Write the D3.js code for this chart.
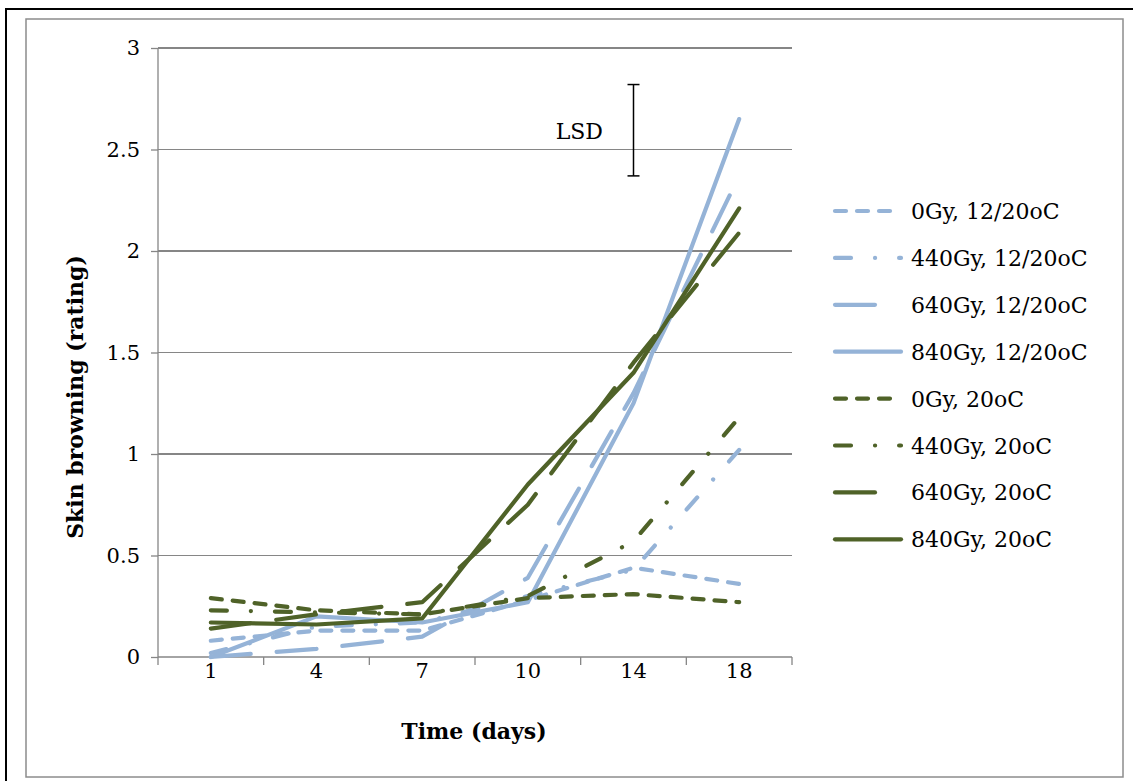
<!DOCTYPE html>
<html>
<head>
<meta charset="UTF-8">
<title>Skin browning</title>
<script src="https://cdn.jsdelivr.net/npm/d3@7"></script>
<style>
  body { margin: 0; background: #fff; }
  svg { display: block; font-family: "DejaVu Serif", serif; }
  .grid line { stroke: #868686; stroke-width: 1.3; shape-rendering: crispEdges; }
</style>
</head>
<body>
<div id="root"></div>
<script>
// data
let days = ["1", "4", "7", "10", "14", "18"]
let yTicks = [0, 0.5, 1, 1.5, 2, 2.5, 3]

let gy0_cold   = [0.08, 0.13, 0.13, 0.28, 0.44, 0.36]
let gy440_cold = [0.02, 0.15, 0.17, 0.30, 0.43, 1.02]
let gy640_cold = [0.00, 0.04, 0.10, 0.39, 1.30, 2.37]
let gy840_cold = [0.00, 0.20, 0.17, 0.27, 1.25, 2.65]
let gy0_warm   = [0.29, 0.23, 0.21, 0.29, 0.31, 0.27]
let gy440_warm = [0.23, 0.22, 0.21, 0.30, 0.57, 1.18]
let gy640_warm = [0.14, 0.21, 0.27, 0.75, 1.45, 2.09]
let gy840_warm = [0.17, 0.16, 0.19, 0.85, 1.40, 2.21]

let lsd = { day: "14", low: 2.37, high: 2.82 }

let blue = "#95b3d7", green = "#4f6228"
let dashShort = "11,11", dashDot = "16,24,0.1,24", dashLong = "40,26"

let series = [
  { name: "0Gy, 12/20oC",   values: gy0_cold,   color: blue,  dash: dashShort },
  { name: "440Gy, 12/20oC", values: gy440_cold, color: blue,  dash: dashDot },
  { name: "640Gy, 12/20oC", values: gy640_cold, color: blue,  dash: dashLong },
  { name: "840Gy, 12/20oC", values: gy840_cold, color: blue,  dash: null },
  { name: "0Gy, 20oC",      values: gy0_warm,   color: green, dash: dashShort },
  { name: "440Gy, 20oC",    values: gy440_warm, color: green, dash: dashDot },
  { name: "640Gy, 20oC",    values: gy640_warm, color: green, dash: dashLong },
  { name: "840Gy, 20oC",    values: gy840_warm, color: green, dash: null }
]

let width = 1133, height = 781
let plot = { left: 158, right: 792, top: 48, bottom: 657 }

let svg = d3.select("#root").append("svg").attr("width", width).attr("height", height)

// frames
svg.append("rect").attr("x", 6).attr("y", 9).attr("width", 1140).attr("height", 790)
  .attr("fill", "none").attr("stroke", "#000").attr("stroke-width", 2)
svg.append("rect").attr("x", 26).attr("y", 19).attr("width", 1097).attr("height", 758)
  .attr("fill", "#fff").attr("stroke", "#8c8c8c").attr("stroke-width", 1.5)

let x = d3.scaleBand().domain(days).range([plot.left, plot.right])
let y = d3.scaleLinear().domain([0, 3]).range([plot.bottom, plot.top])
let cx = d => x(d) + x.bandwidth() / 2

// horizontal gridlines
svg.append("g").attr("class", "grid")
  .selectAll("line").data(yTicks.slice(1)).join("line")
  .attr("x1", plot.left).attr("x2", plot.right)
  .attr("y1", d => y(d)).attr("y2", d => y(d))

// y axis
let yAxis = d3.axisLeft(y).tickValues(yTicks).tickSize(7).tickPadding(11).tickFormat(d3.format("~g"))
let gy = svg.append("g").attr("transform", "translate(" + plot.left + ",0)").call(yAxis)
gy.select(".domain").remove()
gy.append("line").attr("x1", 0).attr("x2", 0).attr("y1", plot.top).attr("y2", plot.bottom)
gy.selectAll("line").attr("stroke", "#868686").attr("stroke-width", 1.3)
gy.selectAll("text").attr("font-size", 21).attr("fill", "#000").attr("font-family", "DejaVu Serif")

// x axis: ticks between categories
let gx = svg.append("g").attr("transform", "translate(0," + plot.bottom + ")")
gx.append("line").attr("x1", plot.left).attr("x2", plot.right)
  .attr("stroke", "#868686").attr("stroke-width", 1.3)
gx.selectAll(".tk").data(days.concat(["end"])).join("line").attr("class", "tk")
  .attr("x1", d => d == "end" ? plot.right : x(d)).attr("x2", d => d == "end" ? plot.right : x(d))
  .attr("y1", 0).attr("y2", 8).attr("stroke", "#868686").attr("stroke-width", 1.3)
gx.selectAll("text").data(days).join("text")
  .attr("x", d => cx(d)).attr("y", 21).attr("text-anchor", "middle")
  .attr("font-size", 21).text(d => d)

// axis titles
svg.append("text").attr("x", 474).attr("y", 739).attr("text-anchor", "middle")
  .attr("font-size", 22).attr("font-weight", "bold").text("Time (days)")
svg.append("text").attr("transform", "translate(83,397) rotate(-90)").attr("text-anchor", "middle")
  .attr("font-size", 22).attr("font-weight", "bold").text("Skin browning (rating)")

// lines
let line = d3.line().x((d, i) => cx(days[i])).y(d => y(d))
svg.append("g").selectAll("path").data(series).join("path")
  .attr("d", d => line(d.values))
  .attr("fill", "none").attr("stroke", d => d.color).attr("stroke-width", 4.2)
  .attr("stroke-linecap", "round").attr("stroke-linejoin", "round")
  .attr("stroke-dasharray", d => d.dash)

// LSD bar
let lg = svg.append("g").attr("stroke", "#000").attr("stroke-width", 1.5)
lg.append("line").attr("x1", cx(lsd.day)).attr("x2", cx(lsd.day)).attr("y1", y(lsd.low)).attr("y2", y(lsd.high))
lg.selectAll(".cap").data([lsd.low, lsd.high]).join("line").attr("class", "cap")
  .attr("x1", cx(lsd.day) - 6).attr("x2", cx(lsd.day) + 6).attr("y1", d => y(d)).attr("y2", d => y(d))
svg.append("text").attr("x", 603).attr("y", 139).attr("text-anchor", "end")
  .attr("font-size", 22).text("LSD")

// legend
let leg = svg.append("g").selectAll("g").data(series).join("g")
  .attr("transform", (d, i) => "translate(833," + (211 + i * 46.9) + ")")
leg.append("line").attr("x1", 2).attr("x2", 68)
  .attr("stroke", d => d.color).attr("stroke-width", 4.2).attr("stroke-linecap", "round")
  .attr("stroke-dasharray", d => d.dash)
leg.append("text").attr("x", 78).attr("y", 8).attr("font-size", 22).text(d => d.name)
</script>
</body>
</html>
